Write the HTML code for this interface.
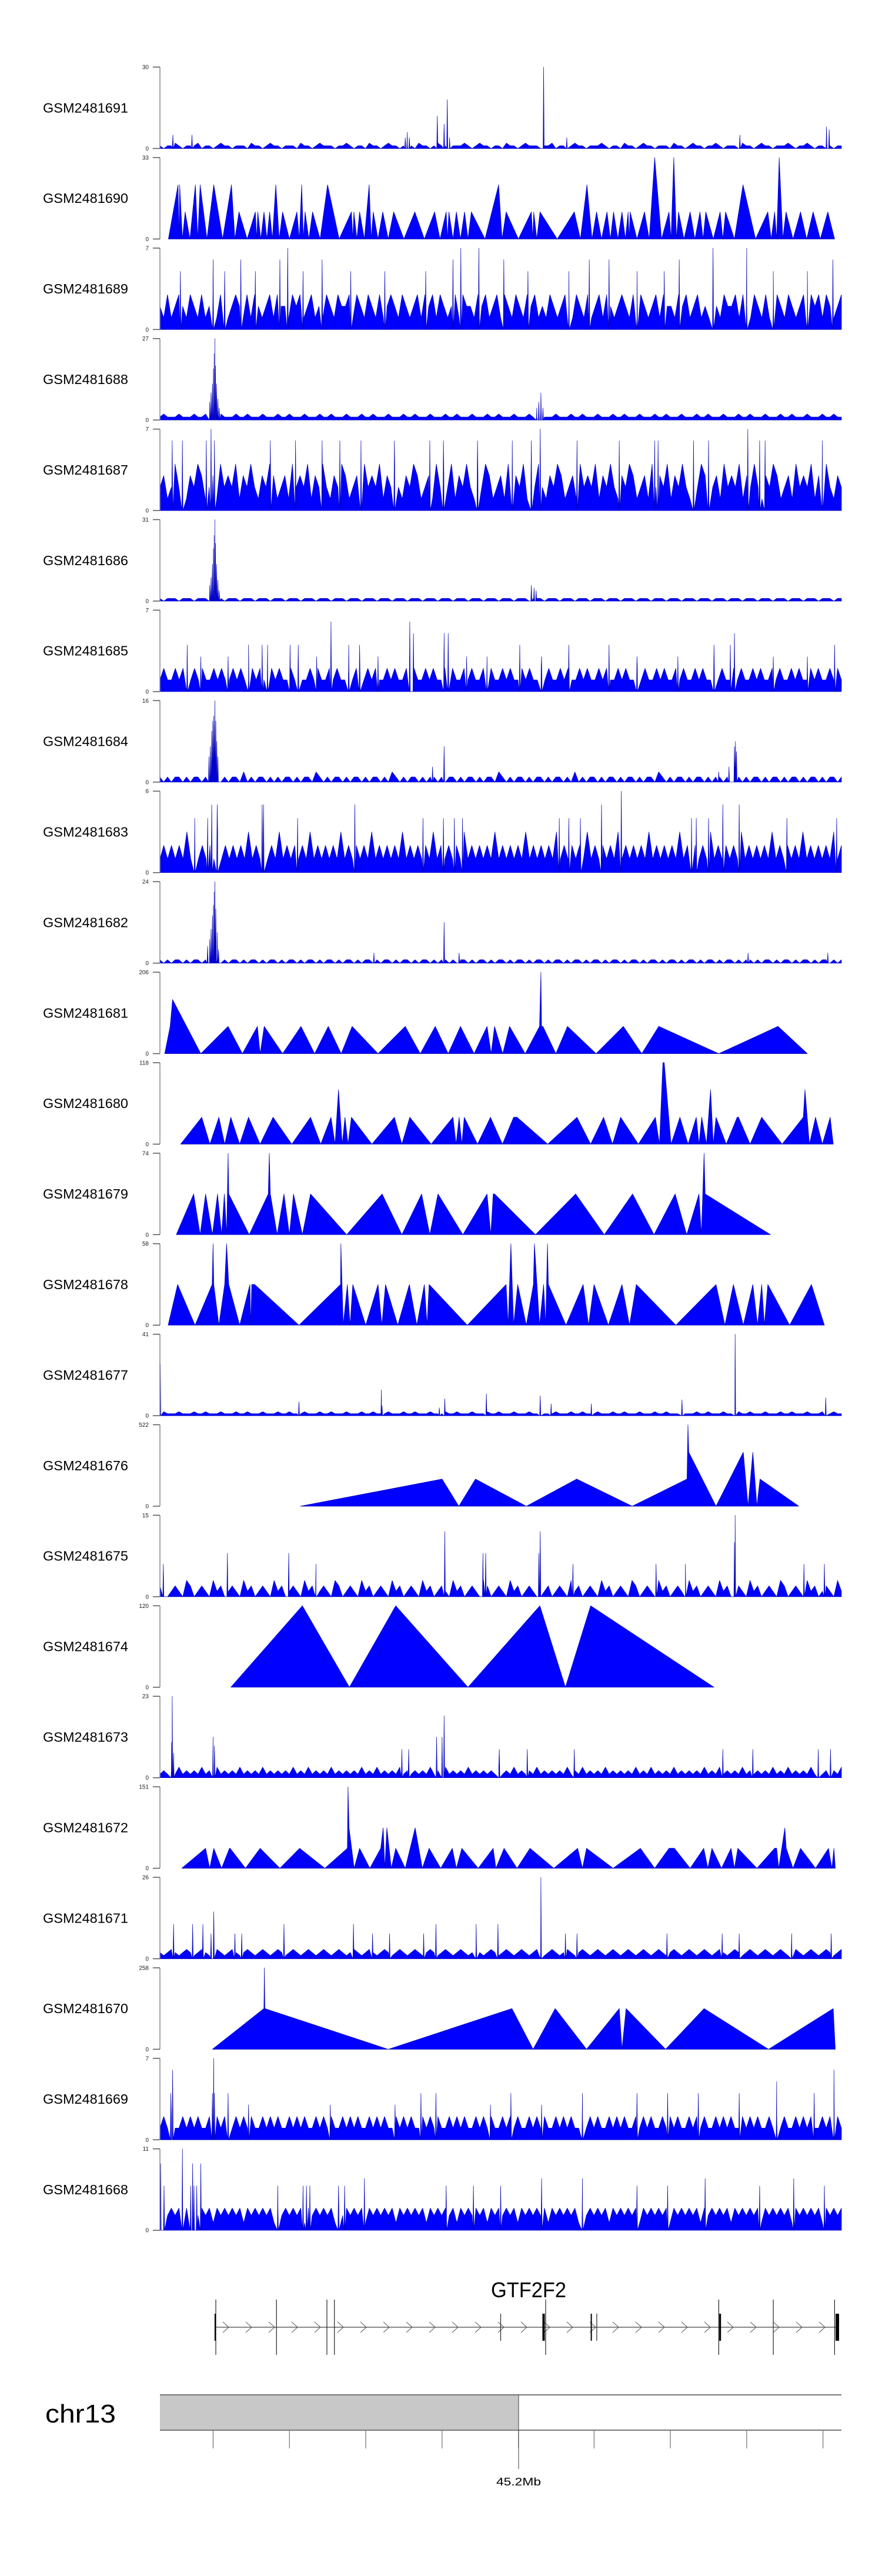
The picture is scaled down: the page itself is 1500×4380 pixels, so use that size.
<!DOCTYPE html>
<html><head><meta charset="utf-8"><style>
html,body{margin:0;padding:0;background:#fff;}
svg{display:block;font-family:"Liberation Sans",Arial,sans-serif;}
</style></head><body>
<svg id="chart" width="1500" height="4380" viewBox="0 0 1500 4380" xmlns="http://www.w3.org/2000/svg">
<g id="tracks"></g>
<g id="gene">
  <text x="899" y="3906" font-size="36" text-anchor="middle" textLength="128" lengthAdjust="spacingAndGlyphs">GTF2F2</text>
</g>
<g id="ideo">
  <text x="77" y="4119" font-size="44" textLength="120" lengthAdjust="spacingAndGlyphs">chr13</text>
  <rect x="272" y="4072" width="610" height="60" fill="#c8c8c8"/>
  <line x1="272" y1="4072" x2="1431" y2="4072" stroke="#777" stroke-width="2"/>
  <line x1="272" y1="4132" x2="1431" y2="4132" stroke="#777" stroke-width="2"/>
  <line x1="882" y1="4072" x2="882" y2="4198" stroke="#444" stroke-width="1"/>
  <text x="882" y="4226" font-size="18" text-anchor="middle" textLength="76" lengthAdjust="spacingAndGlyphs">45.2Mb</text>
</g>
</svg>
<script>
// ---------- data ----------
var trackNames = ["GSM2481691","GSM2481690","GSM2481689","GSM2481688","GSM2481687","GSM2481686","GSM2481685","GSM2481684","GSM2481683","GSM2481682","GSM2481681","GSM2481680","GSM2481679","GSM2481678","GSM2481677","GSM2481676","GSM2481675","GSM2481674","GSM2481673","GSM2481672","GSM2481671","GSM2481670","GSM2481669","GSM2481668"];
var trackMax = [30,33,7,27,7,31,7,16,6,24,206,118,74,58,41,522,15,120,23,151,26,258,7,11];

var N1691 = "101121011120110121101110211012110111021101211101121011021101211011102110121101112101211011021101211101120110121101112101102110121101110211012110112101110211012110111210112101121011";
var P1691 = [[19,5],[47,5],[360,4],[363,6],[366,4],[407,12],[417,9],[421.6,18],[425,4],[563,30],[597,4],[851,5],[978,8],[982,7]];
var N1689 = "2131232132131231321232131321231322132312312132132231321321312321321231323132123132213231231321321323121321232132131231321232131321231322132312312132132231321321312321321231323132123";
var P1689 = [[78,6],[118.7,6],[176,6],[187.5,7],[238,6],[430,6],[441.5,7],[468,7],[504.6,6],[630,6],[659,6],[762,6],[811.6,7],[861,7],[987.5,6],[30,5],[95,5],[140,5],[210,5],[280,5],[330,5],[390,5],[540,5],[600,5],[700,5],[740,5],[900,5],[950,5]];
var N1688 = "121112111211211121112112111211121121112111211211121112112111211121121112111211211121112112111211121121112111211211121112112111211121121112111211211121112112111211121121112111211211";
var P1688 = [[73,6],[75,9],[77,12],[78.5,17],[79.5,22],[80.6,27],[81.5,18],[83,12],[85,7],[87,4],[553,4],[556,6],[559,9],[562,4]];
var N1687 = "2312423132431231423241324213243123142324132421324312314232413242132431231423241324213243123142324132421324312314232413242132431231423241324213243123142324132421324312314232413242132";
var P1687 = [[75,7],[558,7],[862.6,7],[18,6],[33,6],[68,6],[80,6],[162,6],[199,6],[238,6],[264,6],[295,6],[344,6],[396,6],[416,6],[466,6],[517,6],[545,6],[612,6],[674,6],[726,6],[731,6],[783,6],[805,6],[880,6],[888,6],[972,6]];
var N1686 = "101110111011101110111011101110111011101110111011101110111011101110111011101110111011101110111011101110111011101110111011101110111011101110111011101110111011101110111011101110111011";
var P1686 = [[73,6],[75,9],[77,14],[78.5,20],[79.5,25],[80.6,31],[81.5,22],[83,14],[85,8],[87,4],[545,6],[549,5],[552,4]];
var N1685 = "1211212112121121211212112121121211212112121121211212112121121211212112121121211212112121121211212112121121211212112121121211212112121121211212112121121211212112121121211212112121";
var P1685 = [[251,6],[366.6,6],[372,5],[417,5],[423,5],[843,5],[40,4],[130,4],[150,4],[158,4],[191,4],[203,4],[277,4],[293,4],[528,4],[600,4],[659,4],[813,4],[837,4],[990,4],[60,3],[100,3],[230,3],[320,3],[450,3],[480,3],[560,3],[700,3],[760,3],[900,3],[950,3]];
var N1684 = "101011010110101101011020101101010110101102101011010110101101021010110101101011010110101102101011010110101101020101101011010110101102101011010110101101021010110101101011010110101101";
var P1684 = [[72,5],[74,7],[76,10],[77.5,12],[79,13],[80.6,16],[82,12],[83.5,8],[85,5],[400,3],[417,7],[820,2],[835,3],[843,7],[844.5,8],[846,6]];
var N1683 = "1212121312121213121212131212121312121213121212131212121312121213121212131212121312121213121212131212121312121213121212131212121312121213121212131212121312121213121212131212121312";
var P1683 = [[677,6],[76,5],[84,5],[150,5],[152,5],[286,5],[648,5],[826,5],[850,5],[51,4],[70,4],[202,4],[386,4],[416,4],[432,4],[444,4],[586,4],[600,4],[617,4],[780,4],[787,4],[805,4],[920,4],[993,4]];
var N1682 = "101011010110101101011010110101101011010110101101011010110101101011010110101101011010110101101011010110101101011010110101101011010110101101011010110101101011010110101101011010110101";
var P1682 = [[70,5],[73,7],[75,10],[77,14],[78.5,17],[79.5,21],[80.6,24],[82,16],[84,9],[86,4],[314,3],[417,12],[439,3],[863,3],[980,3]];
var N1677 = "121112111211211121112112111211121121112111211211121112112111211121121112111211211121112112111211121121112111211211121112112111211121121112111211211121112112111211121121112111211211";
var P1677 = [[0.5,26],[204,7],[325,13],[326,5],[410,4],[418,8.5],[479,11],[558,10],[574,6],[633,6],[766,8],[844,41],[977,9]];
var N1675 = "210121032012103120121031201210312012103120121032012103120121031201210312012103120121032012103120121031201210312012103120121032012103120121031201210312012103120121032012103120121031";
var P1675 = [[5,6],[99,8],[189,8],[229,6],[418,12],[474,8],[478,8],[556,8],[558,12],[606,6],[728,6],[771,6],[843,10],[844,15],[945,6],[975,6]];
var N1673 = "121213121213121312121312121312121213121312121312121213121312121312121213121312121312121213121312121312121213121312121312121213121312121312121213121312121312121213121312121312121213";
var P1673 = [[17,10],[18,23],[20,7],[78,11.5],[80,9],[355,8],[365,8],[406,11.5],[414,11.5],[417,17.5],[498,8],[539,8],[608,8],[826,8],[870,8],[966,8],[984,8]];
var N1671 = "212321232123212321232123212321232123212321232123212321232123212321232123212321232123212321232123212321232123212321232123212321232123212321232123212321232123212321232123212321232123";
var P1671 = [[20,11],[48,11],[63,11],[75,8],[79,15],[110,8],[120,8],[182,11],[284,11],[312,8],[337,8],[387,8],[405,11],[464,11],[496,11],[559,26],[595,8],[612,8],[744,8],[825,8],[850,8],[927,8],[985,8]];
var N1669 = "121211212121121212112121211212121121212112121211212121121212112121211212121121212112121211212121121212112121211212121121212112121211212121121212112121211212121121212112121211212121";
var P1669 = [[16,4],[18.6,6],[77,4],[79,7],[80,4],[100,4],[130,3],[250,3],[345,3],[383,4],[405,4],[485,3],[515,4],[560,3],[620,4],[700,4],[745,4],[790,4],[850,4],[905,5],[960,4],[989,6]];
var N1668 = "232323132323231323232313232323132323231323232313232323132323231323232313232323132323231323232313232323132323231323232313232323132323231323232313232323132323231323232313232323132323";
var P1668 = [[1,9],[6,6],[33,11],[45,6],[48,9],[50,6],[54,6],[60,9],[173,6],[210,6],[215,6],[220,6],[262,6],[271,6],[300,7],[420,6],[460,6],[500,6],[560,7],[620,7],[700,6],[745,6],[800,7],[880,6],[930,7],[975,6]];

var X1690 = [12.4,26.6,28,29,33,37,44,52,55.5,59,69,79,92,105,110,116,128,140,142,143.6,148,152.7,157,161,165,170,175,180,190,201,204.5,208,210.5,213,218.5,224,235,246,263,281,283,284.6,289,293,300,307,310,313,320,327,335,343,358,374,388,403,411,420,422,424,430,435,441,447,452,457,477,497,502,508,526,545,547,548.5,553,557.7,583,608,617,626.6,634,640.7,648,656,661,665.6,672,678,683,687,688.5,690,700,711,718,726,736,747,750,754,758,761,769,778,785,792.5,797,801,812,822,826,830,843,855.6,874,892,897,902,905,908.7,914,918.7,929,940,949,958.5,969,980,990];
var Y1690 = [0,22,0,22,0,11,0,22,0,22,0,22,0,22,0,11,0,11,0,11,0,11,0,11,0,22,0,11,0,11,0,22,0,11,0,11,0,22,0,11,0,11,0,11,0,22,0,11,0,11,0,11,0,11,0,11,0,11,0,11,0,11,0,11,0,11,0,22,0,11,0,11,0,11,0,11,0,11,0,22,0,11,0,11,0,11,0,11,0,11,0,11,0,11,0,33,0,11,0,33,0,11,0,11,0,11,0,11,0,11,0,11,0,22,0,11,0,11,0,33,0,11,0,11,0,11,0,11,0];
var X1681 = [7,15,18.5,60,100,121,143,147,153,180,207,227,247,266,282,320,360,382,404,423,441,461,480,486,491,503,513,536,557,559,560,562,581,598,640,680,707,732,820,907,950];
var Y1681 = [0,69,137,0,69,0,69,0,69,0,69,0,69,0,69,0,69,0,69,0,69,0,69,0,69,0,69,0,69,206,69,69,0,69,0,69,0,69,0,69,0];
var X1680 = [30.4,61.4,73.3,86.5,95,104,117,130,147,166,193.5,221,236,251,257,262,267.5,271.5,276,281,311,344,355,366.6,398,430,434.6,439,443,446.5,466,485,502.6,519,522,524,569,612,632,651,664,676,702,727,733,738,740,750,763,775,787,791,795,802,808,812,816,831,847,849,866,883,913,944,946.5,953,962,972,983.5,988];
var Y1680 = [0,39,0,39,0,39,0,39,0,39,0,39,0,39,0,79,0,39,0,39,0,39,0,39,0,39,0,39,0,39,0,39,0,39,39,39,0,39,0,39,0,39,0,39,0,118,118,0,39,0,39,0,39,0,79,0,39,0,39,39,0,39,0,39,79,0,39,0,39,0];
var X1679 = [24,49.5,59,67,77,84.5,90.5,94.5,98,100,101,131,159,160.5,162,172,182,190,196,209,221,274,326,355,384,396,408,444.5,480,485.5,489,491,551,610,652,693.5,725,756,773,791,794.5,798.5,800,896];
var Y1679 = [0,37,0,37,0,37,0,37,0,74,37,0,37,74,37,0,37,0,37,0,37,0,37,0,37,0,37,0,37,0,37,37,0,37,0,37,0,37,0,37,0,74,37,0];
var X1678 = [12,26,51.5,76.6,78,79,86.5,95,97.8,101,117,132,133.4,134.7,139,204,265,265.5,269,275,279,283,302,320,325.6,331,349,366,377,388,392,395,451,508,511,515,519,525,537.6,548,549.5,557,563,566,568.7,570,595.8,621,629,637,658,678,689,699,757,816,829,841.5,856,870,877,883,887,892,924,956,975];
var Y1678 = [0,29,0,29,58,29,0,29,58,29,0,29,0,29,29,0,29,58,0,29,0,29,0,29,0,29,0,29,0,29,0,29,0,29,0,58,0,29,0,29,58,0,29,0,58,29,0,29,0,29,0,29,0,29,0,29,0,29,0,29,0,29,0,29,0,29,0];
var X1676 = [206,414,438.6,463,537.6,611.6,693,773.4,774.8,776,816,856,863,870,876,880.5,937.5];
var Y1676 = [0,174,0,174,0,174,0,174,522,346,0,346,0,346,0,174,0];
var X1674 = [104,209,278,346,452,557.5,595,632,813];
var Y1674 = [0,120,0,120,0,120,0,120,0];
var X1672 = [32,67,73,79,90.5,102,103,125.5,147,176,205,242,275,276,277.5,285,293,308,324,327.6,330,333,339.5,346,360,374.5,385,395,412,429,435,443,467,489,493,505,524,543,578,613,620,626,665,705,726,747,755,778,798,804,810,824,838,843,848,876,902,905,908,917,919,929,940,962,981,986,989,991];
var Y1672 = [0,37,0,37,0,37,37,0,37,0,37,0,37,151,75,0,37,0,37,75,0,75,0,37,0,75,0,37,0,37,0,37,0,37,0,37,0,37,0,37,0,37,0,37,0,37,37,0,37,0,37,0,37,0,37,0,37,37,0,75,37,0,37,0,37,0,37,0];
var X1670 = [77,152.6,153.2,154,335,516.5,547.6,580,626,674,678,684,742,798.5,893,988,991];
var Y1670 = [0,129,258,129,0,129,0,129,0,129,0,129,0,129,0,129,0];

var exonPos = [81,563,633,822,994];
var exonWidth = [2,4,2,3,6];
var intronMarks = [82,171,245,256,500,566,641,820,900,990];
var fullMarks = [true,true,true,true,false,true,false,true,true,true];
var ideoTicks = [78,190,302,414,526,637,749,861,973];

function drawAll(){
  var X0 = 272, PW = 1159, TOP0 = 114, PITCH = 153.9, TH = 138.5;
  function xs(u){ return X0 + u * PW / 1000; }
  function ys(i, v){ return TOP0 + PITCH * i + TH - (v / trackMax[i]) * TH; }
  var NS = "http://www.w3.org/2000/svg";
  function mk(tag, attrs, parent){
    var e = document.createElementNS(NS, tag);
    for (var k in attrs) e.setAttribute(k, attrs[k]);
    parent.appendChild(e);
    return e;
  }
  var noisy = {0:[N1691,P1691],2:[N1689,P1689],3:[N1688,P1688],4:[N1687,P1687],5:[N1686,P1686],6:[N1685,P1685],7:[N1684,P1684],8:[N1683,P1683],9:[N1682,P1682],14:[N1677,P1677],16:[N1675,P1675],18:[N1673,P1673],20:[N1671,P1671],22:[N1669,P1669],23:[N1668,P1668]};
  var sparse = {1:[X1690,Y1690],10:[X1681,Y1681],11:[X1680,Y1680],12:[X1679,Y1679],13:[X1678,Y1678],15:[X1676,Y1676],17:[X1674,Y1674],19:[X1672,Y1672],21:[X1670,Y1670]};

  var tracksG = document.getElementById('tracks');
  for (var i = 0; i < trackNames.length; i++) {
    var tTop = TOP0 + PITCH * i, bot = tTop + TH;
    var g = mk('g', {}, tracksG);
    
    
    var lab = mk('text', {x:73, y:(tTop + TH/2 + 8).toFixed(1), 'font-size':23, textLength:145, lengthAdjust:'spacingAndGlyphs', fill:'#000'}, g);
    lab.textContent = trackNames[i];
    
    
    var pts = [];
    if (noisy[i]) {
      var s = noisy[i][0], pk = noisy[i][1], n = s.length;
      for (var k = 0; k < n; k++) pts.push([k * 1000 / (n - 1), parseInt(s.charAt(k), 36)]);
      for (var j = 0; j < pk.length; j++) {
        pts.push([pk[j][0] - 0.8, 0]); pts.push([pk[j][0], pk[j][1]]); pts.push([pk[j][0] + 0.8, 0]);
      }
      pts.sort(function(a, b){ return a[0] - b[0]; });
      pts = pts.filter(function(p){ return p[0] >= 0 && p[0] <= 1000; });
    } else {
      var XA = sparse[i][0], YA = sparse[i][1], mm = Math.min(XA.length, YA.length);
      for (var k2 = 0; k2 < mm; k2++) pts.push([XA[k2], YA[k2]]);
    }
    var d = 'M' + xs(pts[0][0]).toFixed(2) + ',' + bot.toFixed(2);
    for (var q = 0; q < pts.length; q++) d += 'L' + xs(pts[q][0]).toFixed(2) + ',' + ys(i, pts[q][1]).toFixed(2);
    d += 'L' + xs(pts[pts.length-1][0]).toFixed(2) + ',' + bot.toFixed(2) + 'Z';
    var area = mk('path', {d:d, fill:'#0000ff', stroke:'#0000b4', 'stroke-width':0.7, 'stroke-linejoin':'round'}, g);
    
    
    var ax = mk('line', {x1:X0, y1:tTop, x2:X0, y2:bot, stroke:'#888', 'stroke-width':1.5}, g);
    
    
    var t1 = mk('line', {x1:260, y1:tTop, x2:X0, y2:tTop, stroke:'#555', 'stroke-width':1.5}, g);
    
    
    var t2 = mk('line', {x1:260, y1:bot, x2:X0, y2:bot, stroke:'#555', 'stroke-width':1.5}, g);
    
    
    var l1 = mk('text', {x:253, y:(tTop + 3.5).toFixed(1), 'font-size':10, 'text-anchor':'end', fill:'#222'}, g);
    l1.textContent = String(trackMax[i]);
    
    
    var l2 = mk('text', {x:253, y:(bot + 3.5).toFixed(1), 'font-size':10, 'text-anchor':'end', fill:'#222'}, g);
    l2.textContent = '0';
    
    
  }

  var geneG = document.getElementById('gene');
  var gl = mk('line', {x1:xs(82), y1:3957, x2:xs(992), y2:3957, stroke:'#444', 'stroke-width':1.2}, geneG);
  
  
  for (var c = xs(82) + 12; c < xs(992) - 4; c += 39) {
    var ch = mk('polyline', {points:(c)+',3948 '+(c+10)+',3957 '+(c)+',3966', fill:'none', stroke:'#555', 'stroke-width':1}, geneG);
    
    
  }
  for (var m2 = 0; m2 < intronMarks.length; m2++) {
    var full = fullMarks[m2];
    var vl = mk('line', {x1:xs(intronMarks[m2]), y1:full ? 3910 : 3934, x2:xs(intronMarks[m2]), y2:full ? 4004 : 3980, stroke:'#222', 'stroke-width':1.2}, geneG);
    
    
  }
  for (var e2 = 0; e2 < exonPos.length; e2++) {
    var ex = mk('rect', {x:(xs(exonPos[e2]) - exonWidth[e2]/2).toFixed(1), y:3934, width:exonWidth[e2], height:46, fill:'#000'}, geneG);
    
    
  }

  var ideoG = document.getElementById('ideo');
  for (var t = 0; t < ideoTicks.length; t++) {
    var tk = mk('line', {x1:xs(ideoTicks[t]), y1:4133, x2:xs(ideoTicks[t]), y2:4163, stroke:'#555', 'stroke-width':1}, ideoG);
    
    
  }
}
drawAll();
</script>
</body></html>
